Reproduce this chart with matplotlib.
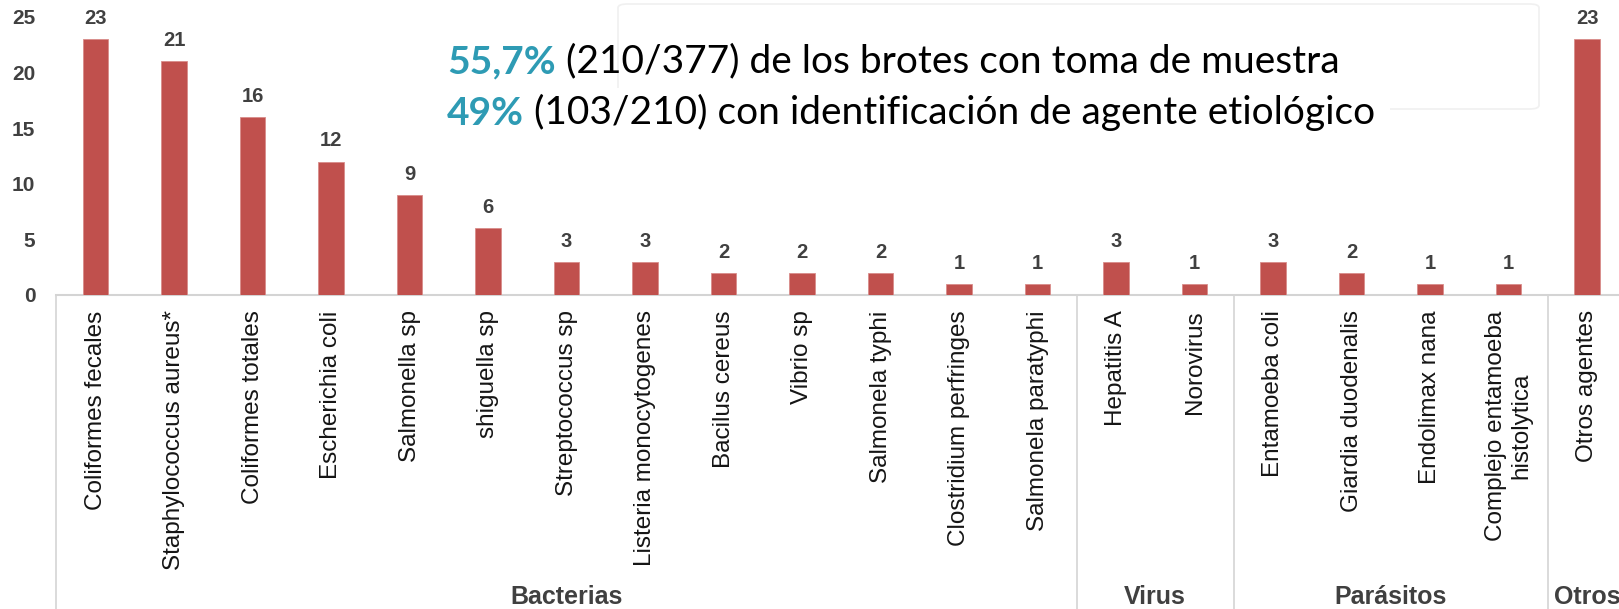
"""
Brotes con toma de muestra: agentes etiológicos identificados.
"""

import matplotlib.pyplot as plt
from matplotlib.patches import FancyBboxPatch, Rectangle
from matplotlib.transforms import blended_transform_factory
import numpy as np

CATEGORIES = [
    'Coliformes fecales', 'Staphylococcus aureus*', 'Coliformes totales',
    'Escherichia coli', 'Salmonella sp', 'shiguella sp', 'Streptococcus sp',
    'Listeria monocytogenes', 'Bacilus cereus', 'Vibrio sp', 'Salmonela typhi',
    'Clostridium perfringes', 'Salmonela paratyphi',
    'Hepatitis A', 'Norovirus',
    'Entamoeba coli', 'Giardia duodenalis', 'Endolimax nana',
    'Complejo entamoeba\nhistolytica',
    'Otros agentes',
]
VALUES = [23, 21, 16, 12, 9, 6, 3, 3, 2, 2, 2, 1, 1, 3, 1, 3, 2, 1, 1, 23]
GROUPS = ['Bacterias', 'Virus', 'Parásitos', 'Otros']
GROUP_SIZES = [13, 2, 4, 1]
YTICKS = [0, 5, 10, 15, 20, 25]

BAR_COLOR = '#C0504D'
TEXT_GRAY = '#404040'
LINE_GRAY = '#d4d4d4'
TEAL = '#2E9BB4'

W, H = 1619, 609
LEFT_PX, BASE_PX, STEP_PX, UNIT_PX = 56.25, 295, 78.5, 11.12

plt.rcParams['font.family'] = ['Liberation Sans', 'DejaVu Sans']

fig = plt.figure(figsize=(W / 100, H / 100), dpi=100)
ax = fig.add_axes([LEFT_PX / W, (H - BASE_PX) / H, 1 - LEFT_PX / W, BASE_PX / H])
ax.patch.set_visible(False)

x = np.arange(len(CATEGORIES))
bars = ax.bar(x, VALUES, width=0.32, color=BAR_COLOR,
              edgecolor='#d98c8a', linewidth=0.6, zorder=3)
ax.bar_label(bars, padding=8, fontsize=14.5, fontweight='bold', color=TEXT_GRAY)

ax.set_xlim(-0.5, -0.5 + (W - LEFT_PX) / STEP_PX)
ax.set_ylim(0, BASE_PX / UNIT_PX)
for s in ax.spines.values():
    s.set_visible(False)
ax.axhline(0, color=LINE_GRAY, lw=1.5, zorder=2, clip_on=False)

ax.set_yticks(YTICKS)
ax.set_yticklabels([str(v) for v in YTICKS], fontsize=15, fontweight='bold',
                   color=TEXT_GRAY)
ax.tick_params(axis='y', length=0, pad=15)

ax.set_xticks(x)
ax.set_xticklabels(CATEGORIES, rotation=90, fontsize=17.5, color='#151515',
                   multialignment='center')
ax.tick_params(axis='x', length=0, pad=11)

# group separators and group names below the category labels
trans = blended_transform_factory(ax.transData, fig.transFigure)
edges = np.concatenate([[0], np.cumsum(GROUP_SIZES)]) - 0.5
for e in edges[:-1]:
    ax.plot([e, e], [0, (H - BASE_PX) / H], transform=trans,
            color=LINE_GRAY, lw=1.2, clip_on=False, zorder=1)
for name, a, b in zip(GROUPS, edges[:-1], edges[1:]):
    ax.text((a + b) / 2, 12 / H, name, transform=trans, ha='center',
            va='center', fontsize=18, fontweight='bold', color=TEXT_GRAY)

# note box (very faint), partly hidden behind the white text box
box = FancyBboxPatch((618 / W, 1 - 109 / H), (1539 - 618) / W, 105 / H,
                     boxstyle='round,pad=0,rounding_size=0.006',
                     transform=fig.transFigure, facecolor='none',
                     edgecolor='#f0f0f0', lw=1.2, zorder=-2)
fig.patches.append(box)
fig.patches.append(Rectangle((440 / W, 1 - 135 / H), (1390 - 440) / W, 47 / H,
                             transform=fig.transFigure, facecolor='white',
                             edgecolor='none', zorder=-1))

notes = [('55,7%', ' (210/377) de los brotes con toma de muestra', 73),
         ('49%', ' (103/210) con identificación de agente etiológico', 125)]
for bold, rest, y in notes:
    t = fig.text(447 / W, 1 - y / H, bold, fontsize=28, fontweight='bold',
                 color=TEAL, family='Lato', va='baseline', ha='left')
    ax.annotate(rest, xy=(1, 0), xycoords=t, fontsize=28, color='black',
                family='Lato', va='bottom', ha='left', annotation_clip=False)

fig.savefig('out.png', dpi=100)
